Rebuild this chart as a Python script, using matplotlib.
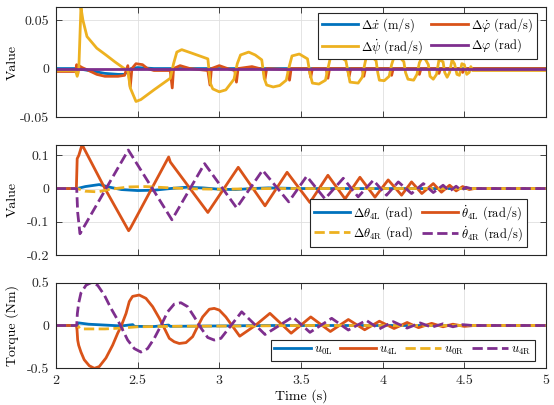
import matplotlib
matplotlib.use("Agg")
import matplotlib.pyplot as plt

plt.rcParams['font.family'] = 'serif'
plt.rcParams['font.serif'] = ['cmr10', 'DejaVu Serif']
plt.rcParams['mathtext.fontset'] = 'cm'
plt.rcParams['axes.formatter.use_mathtext'] = True
plt.rcParams['font.size'] = 10

# MATLAB default colour order
C_BLUE = (0.0, 0.447, 0.741)
C_ORANGE = (0.85, 0.325, 0.098)
C_YELLOW = (0.929, 0.694, 0.125)
C_PURPLE = (0.494, 0.184, 0.556)

# ---------------- top panel: body states ----------------
xdot_t = [2.0, 2.13, 2.2, 2.3, 2.38, 2.42, 2.44, 2.46, 2.5, 2.6, 5.0]
xdot_v = [0.0, 0.0, -0.002, -0.005, -0.006, -0.006, -0.002, 0.0, 0.001, 0.0, 0.0]

phidot_t = [2.0, 2.12, 2.127, 2.133, 2.14, 2.16, 2.2, 2.25, 2.3, 2.38, 2.42, 2.44, 2.455,
            2.465, 2.49, 2.53, 2.56, 2.6, 2.70, 2.712, 2.72, 2.76, 2.82, 2.93, 2.943, 2.952,
            3.0, 3.05, 3.095, 3.105, 3.115, 3.2, 3.27, 3.28, 3.29, 3.42, 3.43, 3.44, 3.55,
            3.56, 3.57, 3.655, 3.665, 3.675, 3.785, 3.795, 3.805, 3.875, 3.885, 3.895, 4.045,
            4.055, 4.065, 4.215, 4.225, 4.235, 4.335, 4.345, 4.355, 4.48, 4.49, 4.5, 4.6, 5.0]
phidot_v = [-0.003, -0.003, 0.004, -0.006, 0.003, 0.001, -0.002, -0.006, -0.008, -0.008, -0.007,
            0.003, -0.019, 0.0, 0.005, 0.004, 0.0, -0.002, -0.002, -0.02, 0.0, 0.003, 0.0, -0.002,
            -0.017, 0.0, 0.003, 0.0, -0.002, -0.014, 0.0, 0.002, -0.001, -0.011, 0.0, -0.001,
            -0.012, 0.0, 0.0, -0.009, 0.0, 0.0, -0.01, 0.0, 0.0, -0.008, 0.0, 0.0, -0.008, 0.0,
            0.0, -0.007, 0.0, 0.0, -0.006, 0.0, 0.0, -0.005, 0.0, 0.0, -0.004, 0.0, 0.0, 0.0]

psidot_t = [2.0, 2.12, 2.13, 2.14, 2.153, 2.165, 2.19, 2.25, 2.31, 2.36, 2.41, 2.44, 2.455,
            2.49, 2.52, 2.60, 2.70, 2.72, 2.74, 2.77, 2.83, 2.93, 2.945, 2.96, 3.0, 3.04,
            3.09, 3.11, 3.13, 3.18, 3.22, 3.26, 3.275, 3.29, 3.33, 3.37, 3.41, 3.425, 3.445,
            3.49, 3.54, 3.555, 3.57, 3.61, 3.65, 3.665, 3.68, 3.73, 3.775, 3.79, 3.80, 3.85,
            3.875, 3.885, 3.90, 3.93, 3.96, 3.97, 3.98, 4.01, 4.04, 4.055, 4.07, 4.10, 4.13,
            4.14, 4.155, 4.19, 4.21, 4.225, 4.24, 4.26, 4.28, 4.29, 4.31, 4.33, 4.345, 4.37,
            4.38, 4.395, 4.41, 4.425, 4.44, 4.455, 4.47, 4.485, 4.50, 4.515, 4.53, 4.54, 4.55, 5.0]
psidot_v = [-0.002, -0.002, -0.008, 0.0, 0.063, 0.05, 0.033, 0.021, 0.0135, 0.007, 0.001, -0.002,
            -0.02, -0.034, -0.032, -0.022, -0.010, 0.005, 0.017, 0.0195, 0.016, 0.010, -0.015,
            -0.021, -0.024, -0.022, -0.011, 0.005, 0.014, 0.017, 0.014, 0.009, -0.01, -0.017,
            -0.019, -0.0175, -0.012, 0.0, 0.013, 0.015, 0.010, -0.005, -0.015, -0.016, -0.012,
            0.0, 0.011, 0.0135, 0.008, -0.005, -0.014, -0.015, -0.009, 0.0, 0.012, 0.013, 0.008,
            -0.004, -0.012, -0.0125, -0.008, 0.004, 0.012, 0.0125, 0.007, -0.004, -0.011, -0.012,
            -0.006, 0.006, 0.011, 0.010, 0.004, -0.008, -0.011, -0.006, 0.009, 0.007, -0.004,
            -0.009, -0.004, 0.009, 0.005, -0.006, -0.007, 0.005, 0.004, -0.006, -0.004, 0.002,
            -0.002, -0.002]

phi_t = [2.0, 5.0]
phi_v = [0.0, 0.0]

# ---------------- middle panel: leg joint ----------------
th4l_t = [2.0, 2.13, 2.18, 2.265, 2.33, 2.4, 2.5, 2.6, 2.7, 2.8, 2.9, 3.0, 3.1, 3.2, 3.3, 3.5, 5.0]
th4l_v = [0.0, 0.0, 0.006, 0.012, 0.004, -0.003, -0.006, -0.005, 0.0, 0.004, 0.002, -0.002,
          -0.003, 0.0, 0.002, 0.0, 0.0]

th4ldot_t = [2.0, 2.125, 2.13, 2.14, 2.16, 2.30, 2.445, 2.455, 2.69, 2.70, 2.93, 3.116, 3.28,
             3.415, 3.555, 3.665, 3.77, 3.861, 3.953, 4.034, 4.116, 4.177, 4.24, 4.31, 4.36,
             4.41, 4.45, 4.49, 4.53, 4.56, 5.0]
th4ldot_v = [0.0, 0.0, 0.09, 0.10, 0.132, 0.0, -0.127, -0.12, 0.095, 0.08, -0.072, 0.064, -0.052,
             0.049, -0.042, 0.040, -0.031, 0.034, -0.026, 0.026, -0.02, 0.02, -0.015, 0.015,
             -0.011, 0.01, -0.007, 0.006, -0.003, 0.0, 0.0]

th4r_t = [2.0, 2.13, 2.18, 2.26, 2.33, 2.45, 2.55, 2.7, 2.85, 3.0, 3.3, 5.0]
th4r_v = [0.0, 0.0, -0.008, -0.010, -0.002, 0.005, 0.006, 0.002, -0.001, -0.002, 0.0, 0.0]

th4rdot_t = [2.0, 2.127, 2.133, 2.147, 2.443, 2.71, 2.91, 3.106, 3.265, 3.425, 3.535, 3.647,
             3.759, 3.85, 3.943, 4.024, 4.096, 4.177, 4.249, 4.31, 4.37, 4.41, 4.45, 4.48,
             4.51, 4.54, 5.0]
th4rdot_v = [0.0, 0.0, -0.072, -0.136, 0.116, -0.094, 0.075, -0.058, 0.055, -0.04, 0.037,
             -0.031, 0.031, -0.025, 0.025, -0.02, 0.02, -0.015, 0.015, -0.012, 0.01, -0.008,
             0.007, -0.005, 0.004, 0.0, 0.0]

# ---------------- bottom panel: torques ----------------
u0l_t = [2.0, 2.125, 2.14, 2.2, 2.4, 2.47, 2.48, 2.6, 2.69, 2.70, 2.8, 3.0, 3.3, 5.0]
u0l_v = [0.0, 0.0, 0.03, 0.015, -0.005, 0.01, -0.01, -0.012, 0.005, -0.01, -0.008, -0.005,
         0.0, 0.0]

u4l_t = [2.0, 2.125, 2.129, 2.133, 2.139, 2.153, 2.173, 2.204, 2.235, 2.265, 2.306, 2.347,
         2.378, 2.398, 2.429, 2.449, 2.469, 2.510, 2.551, 2.592, 2.633, 2.663, 2.694, 2.724,
         2.755, 2.796, 2.837, 2.867, 2.898, 2.939, 2.969, 3.0, 3.04, 3.125, 3.22, 3.31, 3.44,
         3.56, 3.68, 3.79, 3.89, 3.98, 4.07, 4.15, 4.22, 4.30, 4.37, 4.43, 4.5, 4.56, 5.0]
u4l_v = [0.0, 0.0, -0.05, -0.17, -0.23, -0.31, -0.40, -0.47, -0.50, -0.48, -0.38, -0.23, -0.09,
         -0.014, 0.14, 0.28, 0.34, 0.356, 0.317, 0.22, 0.084, -0.03, -0.15, -0.19, -0.21, -0.20,
         -0.13, -0.014, 0.10, 0.19, 0.20, 0.18, 0.10, -0.125, 0.0, 0.142, -0.09, 0.10, -0.07,
         0.07, -0.05, 0.05, -0.035, 0.035, -0.025, 0.025, -0.015, 0.015, -0.01, 0.0, 0.0]

u0r_t = [2.0, 2.13, 2.15, 2.3, 2.4, 2.5, 2.7, 2.9, 3.2, 3.5, 5.0]
u0r_v = [0.0, 0.0, -0.04, -0.04, -0.03, -0.015, -0.01, -0.008, -0.005, 0.0, 0.0]

u4r_t = [2.0, 2.127, 2.131, 2.139, 2.153, 2.184, 2.214, 2.255, 2.296, 2.337, 2.378, 2.408,
         2.439, 2.480, 2.520, 2.561, 2.602, 2.643, 2.684, 2.724, 2.765, 2.806, 2.847, 2.888,
         2.929, 2.969, 3.010, 3.137, 3.28, 3.45, 3.555, 3.688, 3.79, 3.90, 3.98, 4.065, 4.15,
         4.23, 4.30, 4.37, 4.43, 4.49, 4.55, 5.0]
u4r_v = [0.0, 0.0, 0.14, 0.26, 0.38, 0.47, 0.50, 0.47, 0.356, 0.20, 0.064, -0.05, -0.17, -0.27,
         -0.31, -0.27, -0.15, 0.0, 0.16, 0.25, 0.266, 0.22, 0.10, -0.03, -0.14, -0.17, -0.15,
         0.16, -0.105, 0.10, -0.08, 0.084, -0.053, 0.06, -0.04, 0.045, -0.03, 0.03, -0.02,
         0.02, -0.015, 0.01, 0.0, 0.0]

x_ticks = [2, 2.5, 3, 3.5, 4, 4.5, 5]
x_ticklabels = ['2', '2.5', '3', '3.5', '4', '4.5', '5']

LW = 2.0


def style_axes(ax, yticks, ylabels, ylim, show_x=False):
    ax.set_xlim(2, 5)
    ax.set_ylim(*ylim)
    ax.set_xticks(x_ticks)
    ax.set_xticklabels(x_ticklabels if show_x else [])
    ax.set_yticks(yticks)
    ax.set_yticklabels(ylabels)
    ax.grid(True, color='#dfdfdf', lw=0.6)
    ax.set_axisbelow(True)
    ax.tick_params(direction='in', top=True, right=True, length=4, width=0.6,
                   colors='#262626', labelsize=10, pad=5)
    for s in ax.spines.values():
        s.set_linewidth(0.8)
        s.set_color('#262626')


def legend(ax, handles, labels, ncol, loc, anchor):
    lg = ax.legend(handles, labels, ncol=ncol, loc=loc, bbox_to_anchor=anchor,
                   borderaxespad=0, fancybox=False, framealpha=1, edgecolor='#262626',
                   fontsize=9, handlelength=2.9, handletextpad=0.25, columnspacing=0.6,
                   labelspacing=0.2, borderpad=0.3)
    lg.get_frame().set_linewidth(0.8)


fig = plt.figure(figsize=(5.54, 4.05), dpi=100)
left, width = 0.101, 0.8845

# top
ax1 = fig.add_axes([left, 0.7111, width, 0.2716])
h1, = ax1.plot(xdot_t, xdot_v, color=C_BLUE, lw=LW)
h2, = ax1.plot(phidot_t, phidot_v, color=C_ORANGE, lw=LW)
h3, = ax1.plot(psidot_t, psidot_v, color=C_YELLOW, lw=LW)
h4, = ax1.plot(phi_t, phi_v, color=C_PURPLE, lw=LW)
style_axes(ax1, [-0.05, 0, 0.05], ['-0.05', '0', '0.05'], (-0.05, 0.0635))
ax1.set_ylabel('Value')
legend(ax1, [h1, h3, h2, h4],
       [r'$\Delta\dot{x}$ (m/s)', r'$\Delta\dot{\psi}$ (rad/s)',
        r'$\Delta\dot{\varphi}$ (rad/s)', r'$\Delta\varphi$ (rad)'],
       2, 'upper right', (0.9816, 0.948))

# middle
ax2 = fig.add_axes([left, 0.3704, width, 0.2723])
g1, = ax2.plot(th4l_t, th4l_v, color=C_BLUE, lw=LW)
g2, = ax2.plot(th4ldot_t, th4ldot_v, color=C_ORANGE, lw=LW)
g3, = ax2.plot(th4r_t, th4r_v, color=C_YELLOW, lw=LW, ls='--')
g4, = ax2.plot(th4rdot_t, th4rdot_v, color=C_PURPLE, lw=LW, ls='--')
style_axes(ax2, [-0.2, -0.1, 0, 0.1], ['-0.2', '-0.1', '0', '0.1'], (-0.2, 0.132))
ax2.set_ylabel('Value')
legend(ax2, [g1, g3, g2, g4],
       [r'$\Delta\theta_{\rm 4L}$ (rad)', r'$\Delta\theta_{\rm 4R}$ (rad)',
        r'$\dot{\theta}_{\rm 4L}$ (rad/s)', r'$\dot{\theta}_{\rm 4R}$ (rad/s)'],
       2, 'lower right', (0.9606, 0.075))

# bottom
ax3 = fig.add_axes([left, 0.0906, width, 0.2114])
k1, = ax3.plot(u0l_t, u0l_v, color=C_BLUE, lw=LW)
k2, = ax3.plot(u4l_t, u4l_v, color=C_ORANGE, lw=LW)
k3, = ax3.plot(u0r_t, u0r_v, color=C_YELLOW, lw=LW, ls='--')
k4, = ax3.plot(u4r_t, u4r_v, color=C_PURPLE, lw=LW, ls='--')
style_axes(ax3, [-0.5, 0, 0.5], ['-0.5', '0', '0.5'], (-0.5, 0.5), show_x=True)
ax3.set_ylabel('Torque (Nm)')
ax3.set_xlabel('Time (s)', labelpad=1)
legend(ax3, [k1, k2, k3, k4],
       [r'$u_{\rm 0L}$', r'$u_{\rm 4L}$', r'$u_{\rm 0R}$', r'$u_{\rm 4R}$'],
       4, 'lower right', (0.9776, 0.089))

for ax in (ax1, ax2, ax3):
    ax.yaxis.set_label_coords(-0.075, 0.5)

fig.savefig('out.png', dpi=100)
